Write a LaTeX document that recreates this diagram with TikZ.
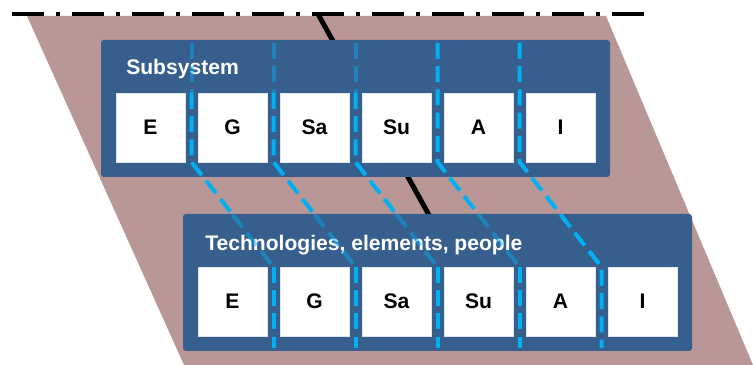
\documentclass[tikz,border=0pt]{standalone}
\usepackage{fontspec}
\setmainfont{Liberation Sans}
\usepackage{tikz}
\usetikzlibrary{positioning, calc}
\definecolor{planebrown}{RGB}{185,151,150}
\definecolor{layerblue}{RGB}{54,95,142}
\definecolor{linkcyan}{RGB}{0,176,240}

\begin{document}
\begin{tikzpicture}[
  font=\fontsize{15}{18}\selectfont\bfseries,
  layer/.style={fill=layerblue, rounded corners=2pt, anchor=north west,
                minimum width=12.725cm, minimum height=3.425cm,
                inner sep=0pt, outer sep=0pt},
  cell/.style={fill=white, draw=white!85!layerblue, line width=0.4pt,
               minimum size=1.725cm, inner sep=0pt, outer sep=0pt},
  ttl/.style={text=white, inner sep=0pt, anchor=base west},
  link/.style={linkcyan, line width=0.1cm, dash pattern=on 0.4cm off 0.18cm},
  dim/.style={link, opacity=.45}
]
\useasboundingbox (0,0) rectangle (18.825,9.125);

% tilted plane behind both layers
\fill[planebrown] (0.675,8.725) -- (15.15,8.725) -- (18.825,0) -- (4.6,0) -- cycle;

% slanted axis and dash-dot reference line
\coordinate (axisTop) at (7.95,8.775);
\coordinate (axisEnd) at (11.0,3.25);
\draw[line width=0.125cm] (axisTop) -- (axisEnd);
\coordinate (refL) at (0.3,8.775);
\coordinate (refR) at (16.1,8.775);
\draw[line width=0.1cm, dash pattern=on 0.8cm off 0.3cm on 0.1cm off 0.3cm]
  (refL) -- (refR);

% Subsystem layer
\node[layer] (sub) at (2.525,8.125) {};
\node[below right=0.875cm and 0.625cm of sub.north west, ttl] (subT) {Subsystem};
\node[cell, below right=1.325cm and 0.375cm of sub.north west] (subE) {E};
\node[cell, right=0.325cm of subE] (subG) {G};
\node[cell, right=0.325cm of subG] (subSa) {Sa};
\node[cell, right=0.325cm of subSa] (subSu) {Su};
\node[cell, right=0.325cm of subSu] (subA) {A};
\node[cell, right=0.325cm of subA] (subI) {I};

% Technologies layer
\node[layer] (tec) at (4.575,3.775) {};
\node[below right=0.925cm and 0.55cm of tec.north west, ttl] (tecT) {Technologies, elements, people};
\node[cell, below right=1.325cm and 0.375cm of tec.north west] (tecE) {E};
\node[cell, right=0.325cm of tecE] (tecG) {G};
\node[cell, right=0.325cm of tecG] (tecSa) {Sa};
\node[cell, right=0.325cm of tecSa] (tecSu) {Su};
\node[cell, right=0.325cm of tecSu] (tecA) {A};
\node[cell, right=0.325cm of tecA] (tecI) {I};

% gaps between the cells
\coordinate (u1t) at ($(subE.north east)!.5!(subG.north west)$);
\coordinate (u1b) at ($(subE.south east)!.5!(subG.south west)$);
\coordinate (u2t) at ($(subG.north east)!.5!(subSa.north west)$);
\coordinate (u2b) at ($(subG.south east)!.5!(subSa.south west)$);
\coordinate (u3t) at ($(subSa.north east)!.5!(subSu.north west)$);
\coordinate (u3b) at ($(subSa.south east)!.5!(subSu.south west)$);
\coordinate (u4t) at ($(subSu.north east)!.5!(subA.north west)$);
\coordinate (u4b) at ($(subSu.south east)!.5!(subA.south west)$);
\coordinate (u5t) at ($(subA.north east)!.5!(subI.north west)$);
\coordinate (u5b) at ($(subA.south east)!.5!(subI.south west)$);
\coordinate (l1t) at ($(tecE.north east)!.5!(tecG.north west)$);
\coordinate (l1b) at ($(tecE.south east)!.5!(tecG.south west)$);
\coordinate (l2t) at ($(tecG.north east)!.5!(tecSa.north west)$);
\coordinate (l2b) at ($(tecG.south east)!.5!(tecSa.south west)$);
\coordinate (l3t) at ($(tecSa.north east)!.5!(tecSu.north west)$);
\coordinate (l3b) at ($(tecSa.south east)!.5!(tecSu.south west)$);
\coordinate (l4t) at ($(tecSu.north east)!.5!(tecA.north west)$);
\coordinate (l4b) at ($(tecSu.south east)!.5!(tecA.south west)$);
\coordinate (l5t) at ($(tecA.north east)!.5!(tecI.north west)$);
\coordinate (l5b) at ($(tecA.south east)!.5!(tecI.south west)$);

% E-G
\draw[dim] ($(u1t |- sub.north)+(0,-0.075)$) -- (u1t);
\draw[link] (u1t) -- (u1b) -- ($(u1b)!.5!(l1t)$);
\draw[dim] ($(u1b)!.5!(l1t)$) -- (l1t);
\draw[link] (l1t) -- ($(l1b)+(0,-0.3)$);
% G-Sa
\draw[dim] ($(u2t |- sub.north)+(0,-0.075)$) -- (u2t);
\draw[link] (u2t) -- (u2b) -- ($(u2b)!.5!(l2t)$);
\draw[dim] ($(u2b)!.5!(l2t)$) -- (l2t);
\draw[link] (l2t) -- ($(l2b)+(0,-0.3)$);
% Sa-Su
\draw[dim] ($(u3t |- sub.north)+(0,-0.075)$) -- (u3t);
\draw[link] (u3t) -- (u3b) -- ($(u3b)!.5!(l3t)$);
\draw[dim] ($(u3b)!.5!(l3t)$) -- (l3t);
\draw[link] (l3t) -- ($(l3b)+(0,-0.3)$);
% Su-A
\draw[link] ($(u4t |- sub.north)+(0,-0.075)$) -- (u4b) -- ($(u4b)!.5!(l4t)$);
\draw[dim] ($(u4b)!.5!(l4t)$) -- (l4t);
\draw[link] (l4t) -- ($(l4b)+(0,-0.3)$);
% A-I
\draw[link] ($(u5t |- sub.north)+(0,-0.075)$) -- (u5b) -- (l5t) -- ($(l5b)+(0,-0.3)$);

\end{tikzpicture}
\end{document}
